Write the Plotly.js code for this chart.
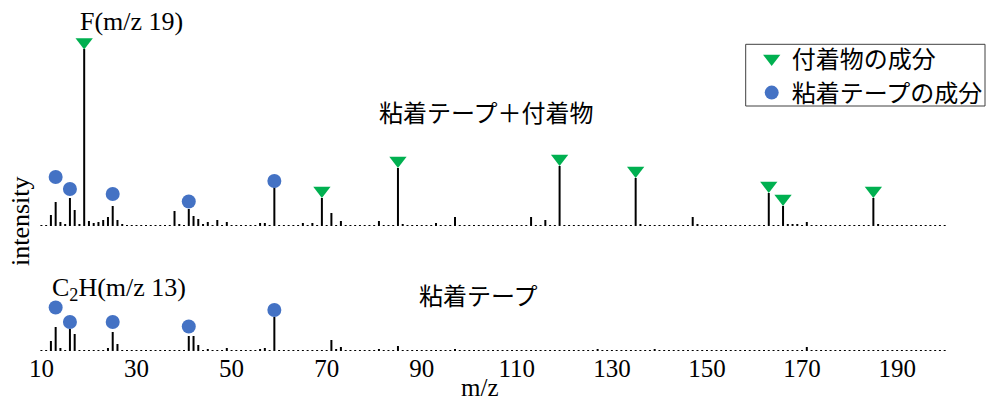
<!DOCTYPE html>
<html><head><meta charset="utf-8">
<script src="https://cdn.plot.ly/plotly-3.0.1.min.js"></script>
<style>html,body{margin:0;padding:0;background:#fff}#chart{width:986px;height:403px}</style>
</head><body><div id="chart"></div>
<script>
// m/z channels
const mz = [
 10,11,12,13,14,15,16,17,18,19,
 20,21,22,23,24,25,26,27,28,29,
 30,31,32,33,34,35,36,37,38,39,
 40,41,42,43,44,45,46,47,48,49,
 50,51,52,53,54,55,56,57,58,59,
 60,61,62,63,64,65,66,67,68,69,
 70,71,72,73,74,75,76,77,78,79,
 80,81,82,83,84,85,86,87,88,89,
 90,91,92,93,94,95,96,97,98,99,
 100,101,102,103,104,105,106,107,108,109,
 110,111,112,113,114,115,116,117,118,119,
 120,121,122,123,124,125,126,127,128,129,
 130,131,132,133,134,135,136,137,138,139,
 140,141,142,143,144,145,146,147,148,149,
 150,151,152,153,154,155,156,157,158,159,
 160,161,162,163,164,165,166,167,168,169,
 170,171,172,173,174,175,176,177,178,179,
 180,181,182,183,184,185,186,187,188,189,
 190,191,192,193,194,195,196,197,198,199,
 200];

// 粘着テープ＋付着物 (upper spectrum)
const tapeWithDeposit = [
 1,1,11,24,4,2,28,16,2,177,
 5,3,4,6,9,20,6,2,1,1,
 1,1,1,1,1,1,1,1,15,2,
 1,17,10,7,2,4,1,6,1,4,
 1,1,1,1,1,1,3,3,1,39,
 1,1,1,1,1,3,1,3,1,28,
 1,13,1,5,1,1,1,1,1,1,
 1,5,1,1,1,58,2,1,1,1,
 1,1,1,3,1,1,1,9,1,1,
 1,1,1,1,1,1,1,1,1,1,
 1,1,1,9,1,1,6,1,1,60,
 1,1,1,1,1,1,1,1,1,1,
 1,1,1,1,1,48,2,1,1,1,
 1,1,1,1,1,1,1,9,2,1,
 1,1,1,1,1,1,1,1,1,1,
 1,1,1,33,1,1,20,2,2,2,
 1,4,1,1,1,1,1,1,1,1,
 1,1,1,1,1,28,2,1,1,1,
 1,1,1,1,1,1,1,1,1,1,
 1];

// 粘着テープ (lower spectrum)
const tapeOnly = [
 1,1,10,24,3,1,22,17,1,1,
 1,1,1,1,3,19,7,1,1,1,
 1,1,1,1,1,1,1,1,1,1,
 1,15,15,6,1,2,1,1,1,3,
 1,1,1,1,1,1,2,3,1,34,
 1,1,1,1,1,1,1,1,1,1,
 1,11,2,4,1,1,1,1,1,1,
 1,2,1,1,1,5,1,1,1,1,
 1,1,1,1,1,1,1,2,1,1,
 1,1,1,1,1,1,1,1,1,1,
 1,1,1,1,1,1,1,1,1,1,
 1,1,1,1,1,1,1,2,1,1,
 1,1,1,1,1,1,1,1,1,2,
 1,1,1,1,1,1,1,1,1,1,
 1,1,1,1,1,1,1,1,1,1,
 1,1,1,1,1,1,1,1,1,1,
 1,4,1,1,1,1,1,1,1,1,
 1,1,1,1,1,1,1,1,1,1,
 1,1,1,1,1,1,1,1,1,1,
 1];

// marker positions (付着物の成分 / 粘着テープの成分)
const depositMz = [19,69,85,119,135,163,166,185];
const depositMarkY = [184,35.5,65.5,67.5,55.5,40.5,27.5,35.5];
const tapeMz = [13,16,25,41,59];
const tapeMarkTopY = [49,37,32,24.5,45];
const tapeMarkBotY = [43.5,29,29,24.5,41];

const xTicks = [10,30,50,70,90,110,130,150,170,190];

const serif = 'Liberation Serif, Times New Roman, serif';
const cjk = 'Noto Sans CJK JP, sans-serif';
const GREEN = '#00b050', BLUE = '#4472c4';

const W = 986, H = 403;
const mL = 30, mR = 36, mT = 20, mB = 52;
const pw = W - mL - mR, ph = H - mT - mB;
const px2x = p => (p - mL) / pw;
const px2y = p => (H - mB - p) / ph;

const traces = [
  {type:'bar', x:mz, y:tapeWithDeposit, xaxis:'x', yaxis:'y2', width:0.42,
   marker:{color:'#000', line:{width:0}}, showlegend:false, hoverinfo:'x+y'},
  {type:'bar', x:mz, y:tapeOnly, xaxis:'x', yaxis:'y', width:0.42,
   marker:{color:'#000', line:{width:0}}, showlegend:false, hoverinfo:'x+y'},
  {type:'scatter', mode:'markers', name:'付着物の成分', x:depositMz, y:depositMarkY,
   xaxis:'x', yaxis:'y2', marker:{symbol:'triangle-down', size:15, color:GREEN}, showlegend:true},
  {type:'scatter', mode:'markers', name:'粘着テープの成分', x:tapeMz, y:tapeMarkTopY,
   xaxis:'x', yaxis:'y2', marker:{symbol:'circle', size:14, color:BLUE}, showlegend:true},
  {type:'scatter', mode:'markers', name:'粘着テープの成分', x:tapeMz, y:tapeMarkBotY,
   xaxis:'x', yaxis:'y', marker:{symbol:'circle', size:14, color:BLUE}, showlegend:false}
];

const topDom = px2y(226);

const layout = {
  width:W, height:H,
  margin:{l:mL, r:mR, t:mT, b:mB, autoexpand:false},
  paper_bgcolor:'#fff', plot_bgcolor:'#fff',
  barmode:'overlay',
  showlegend:true,
  legend:{x:px2x(751.7), xanchor:'left', y:px2y(36.3), yanchor:'top',
    borderwidth:0, bgcolor:'rgba(0,0,0,0)',
    font:{family:cjk, size:24, color:'#000'}},
  shapes:[
    {type:'rect', xref:'paper', yref:'paper', x0:px2x(745.7), x1:px2x(985), y0:px2y(44.3), y1:px2y(106),
     line:{color:'#404040', width:1}, fillcolor:'rgba(0,0,0,0)', layer:'above'}
  ],
  xaxis:{range:[7.602, 201.12], tickvals:xTicks, ticks:'', showgrid:false,
    zeroline:false, showline:false, anchor:'y',
    tickfont:{family:serif, size:25, color:'#000'}},
  yaxis:{domain:[0, 0.3], range:[0, 99.3], visible:false, fixedrange:true},
  yaxis2:{domain:[topDom, 1], range:[0, 206], visible:false, fixedrange:true},
  annotations:[
    {text:'m/z', xref:'paper', yref:'paper', x:px2x(480), y:px2y(402.5),
     xanchor:'center', yanchor:'bottom', showarrow:false, font:{family:serif, size:25, color:'#000'}},
    {text:'F(m/z 19)', xref:'paper', yref:'paper', x:px2x(131), y:px2y(22),
     xanchor:'center', yanchor:'middle', showarrow:false, font:{family:serif, size:26, color:'#000'}},
    {text:'粘着テープ＋付着物', xref:'paper', yref:'paper', x:px2x(486), y:px2y(111),
     xanchor:'center', yanchor:'middle', showarrow:false, font:{family:cjk, size:24, color:'#000'}},
    {text:'C<sub>2</sub>H(m/z 13)', xref:'paper', yref:'paper', x:px2x(119), y:px2y(289),
     xanchor:'center', yanchor:'middle', showarrow:false, font:{family:serif, size:26, color:'#000'}},
    {text:'粘着テープ', xref:'paper', yref:'paper', x:px2x(478), y:px2y(294),
     xanchor:'center', yanchor:'middle', showarrow:false, font:{family:cjk, size:24, color:'#000'}},
    {text:'intensity', xref:'paper', yref:'paper', x:px2x(20.5), y:px2y(221.5), textangle:-90,
     xanchor:'center', yanchor:'middle', showarrow:false, font:{family:serif, size:26, color:'#000'}}
  ]
};

Plotly.newPlot('chart', traces, layout, {displayModeBar:false, staticPlot:true});
</script></body></html>
